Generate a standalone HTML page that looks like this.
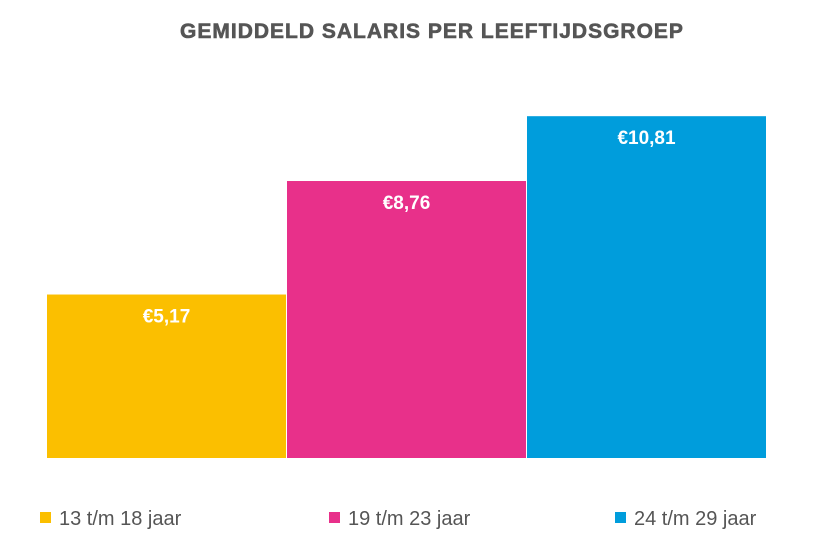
<!DOCTYPE html>
<html><head><meta charset="utf-8"><style>
body{margin:0;background:#fff;width:814px;height:541px;overflow:hidden;font-family:"Liberation Sans",sans-serif}
</style></head><body>
<svg width="814" height="541">
<text x="432" y="38" text-anchor="middle" font-family="Liberation Sans, sans-serif" font-weight="bold" font-size="21" fill="#555" letter-spacing="1" stroke="#555" stroke-width="0.6">GEMIDDELD SALARIS PER LEEFTIJDSGROEP</text>
<g id="bars"></g>
<g id="legend"></g>
</svg>
<script>
const categories=["13 t/m 18 jaar","19 t/m 23 jaar","24 t/m 29 jaar"];
const values=[5.17,8.76,10.81];
const labels=["€5,17","€8,76","€10,81"];
const colors=["#fbbf00","#e8308a","#009ddc"];
const base=458, scale=31.62, x0=47, bw=239;
const ns="http://www.w3.org/2000/svg";
const bars=document.getElementById('bars'), leg=document.getElementById('legend');
const y=v=>base-v*scale;
const legX=[40,329,615];
values.forEach((v,i)=>{
  const r=document.createElementNS(ns,'rect');
  r.setAttribute('x',x0+i*240);r.setAttribute('y',y(v));
  r.setAttribute('width',bw);r.setAttribute('height',base-y(v));
  r.setAttribute('fill',colors[i]);
  
  
  bars.appendChild(r);
  const t=document.createElementNS(ns,'text');
  t.setAttribute('x',x0+i*240+bw/2);t.setAttribute('y',y(v)+28);
  t.setAttribute('text-anchor','middle');t.setAttribute('fill','#fff');
  t.setAttribute('font-weight','bold');t.setAttribute('font-size','19');
  t.setAttribute('font-family','Liberation Sans, sans-serif');
  t.textContent=labels[i];
  
  
  bars.appendChild(t);
  const s=document.createElementNS(ns,'rect');
  s.setAttribute('x',legX[i]);s.setAttribute('y',512);s.setAttribute('width',11);s.setAttribute('height',11);
  s.setAttribute('fill',colors[i]);
  
  
  leg.appendChild(s);
  const lt=document.createElementNS(ns,'text');
  lt.setAttribute('x',legX[i]+19);lt.setAttribute('y',525);
  lt.setAttribute('font-size','20');lt.setAttribute('fill','#555');
  lt.setAttribute('font-family','Liberation Sans, sans-serif');
  lt.textContent=categories[i];
  
  
  leg.appendChild(lt);
});
</script>
</body></html>
